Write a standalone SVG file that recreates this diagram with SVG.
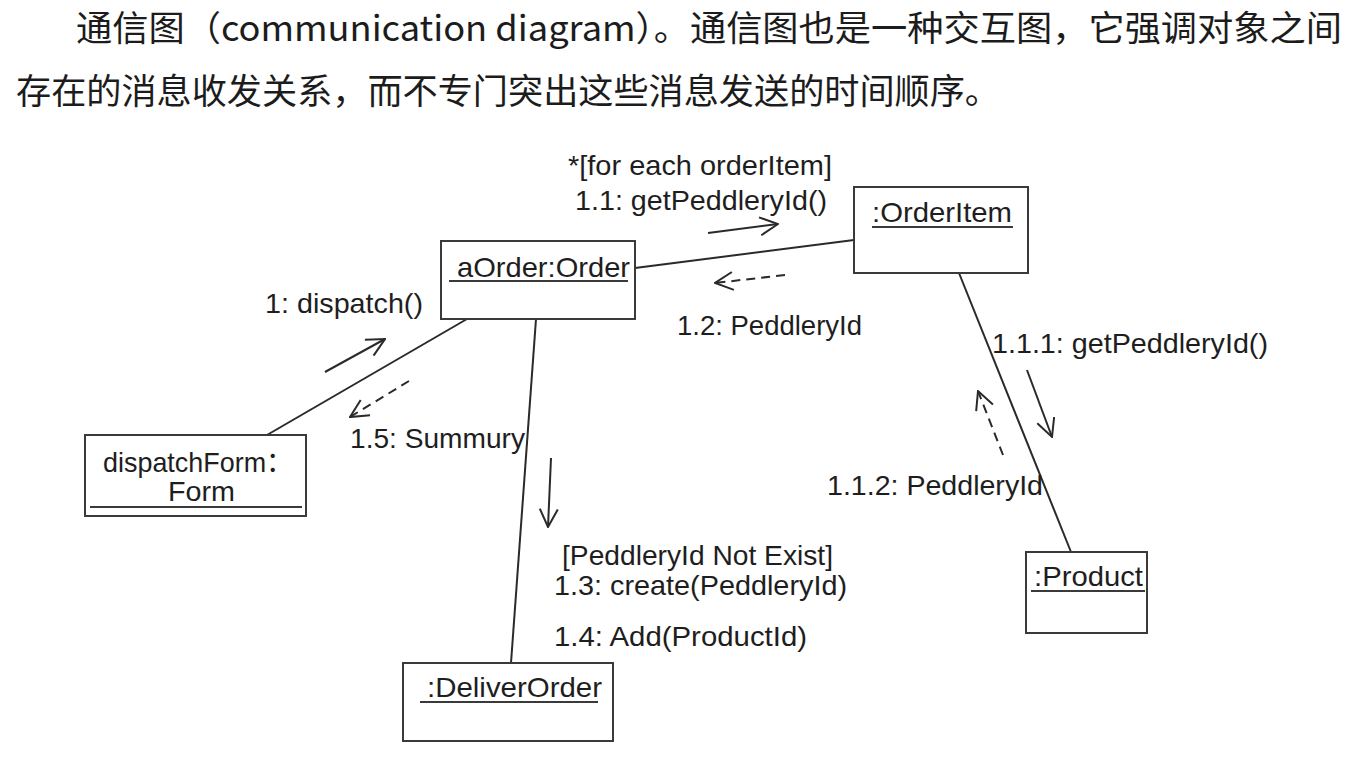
<svg xmlns="http://www.w3.org/2000/svg" width="1354" height="762" viewBox="0 0 1354 762">
  <style>
    .hdr { font-family: "Noto Sans CJK SC", "Noto Sans", sans-serif; font-size: 35px; fill: #1c1c1c; }
    .t { font-family: "Liberation Sans", "Noto Sans CJK SC", sans-serif; font-size: 28px; fill: #1e1e1e; }
    .box { fill: #ffffff; stroke: #3a3a3a; stroke-width: 2; }
    .ul { stroke: #3a3a3a; stroke-width: 2; fill: none; }
    .link { stroke: #2a2a2a; stroke-width: 2; fill: none; }
    .msg { stroke: #2a2a2a; stroke-width: 2; fill: none; marker-end: url(#open); }
    .ret { stroke: #2a2a2a; stroke-width: 2; fill: none; stroke-dasharray: 9 6; marker-end: url(#open); }
  </style>
  <defs>
    <marker id="open" viewBox="0 0 20 20" refX="19" refY="10" markerWidth="20" markerHeight="20" markerUnits="userSpaceOnUse" orient="auto">
      <path d="M1,1 L19,10 L1,19" fill="none" stroke="#2a2a2a" stroke-width="2"/>
    </marker>
  </defs>
  <rect width="1354" height="762" fill="#ffffff"/>

  <g id="header">
    <text class="hdr" x="76" y="41" textLength="1266" lengthAdjust="spacingAndGlyphs">通信图（communication diagram）。通信图也是一种交互图，它强调对象之间</text>
    <text class="hdr" x="16" y="104" textLength="984" lengthAdjust="spacingAndGlyphs">存在的消息收发关系，而不专门突出这些消息发送的时间顺序。</text>
  </g>

  <g id="connectors">
    <line class="link" x1="635" y1="268" x2="854" y2="240"/>
    <line class="link" x1="467" y1="319" x2="267" y2="435"/>
    <line class="link" x1="536" y1="319" x2="511" y2="663"/>
    <line class="link" x1="959" y1="273" x2="1071" y2="552"/>
  </g>

  <g id="messages">
    <line class="msg" x1="708" y1="233" x2="778" y2="224"/>
    <line class="ret" x1="785" y1="275" x2="715" y2="283"/>
    <line class="msg" x1="325" y1="372" x2="385" y2="339"/>
    <line class="ret" x1="409" y1="381" x2="350" y2="417"/>
    <line class="msg" x1="551" y1="458" x2="548" y2="527"/>
    <line class="msg" x1="1027" y1="370" x2="1052" y2="437"/>
    <line class="ret" x1="1003" y1="455" x2="978" y2="391"/>
    <text class="t" x="568" y="175" textLength="264" lengthAdjust="spacingAndGlyphs">*[for each orderItem]</text>
    <text class="t" x="575" y="210" textLength="252" lengthAdjust="spacingAndGlyphs">1.1: getPeddleryId()</text>
    <text class="t" x="677" y="335" textLength="185" lengthAdjust="spacingAndGlyphs">1.2: PeddleryId</text>
    <text class="t" x="265" y="313" textLength="158" lengthAdjust="spacingAndGlyphs">1: dispatch()</text>
    <text class="t" x="350" y="448" textLength="175" lengthAdjust="spacingAndGlyphs">1.5: Summury</text>
    <text class="t" x="992" y="353" textLength="276" lengthAdjust="spacingAndGlyphs">1.1.1: getPeddleryId()</text>
    <text class="t" x="827" y="495" textLength="216" lengthAdjust="spacingAndGlyphs">1.1.2: PeddleryId</text>
    <text class="t" x="562" y="565" textLength="271" lengthAdjust="spacingAndGlyphs">[PeddleryId Not Exist]</text>
    <text class="t" x="554" y="595" textLength="293" lengthAdjust="spacingAndGlyphs">1.3: create(PeddleryId)</text>
    <text class="t" x="554" y="646" textLength="253" lengthAdjust="spacingAndGlyphs">1.4: Add(ProductId)</text>
  </g>

  <g id="aOrder">
    <rect class="box" x="441" y="241" width="194" height="78"/>
    <text class="t" x="457" y="277" textLength="173" lengthAdjust="spacingAndGlyphs">aOrder:Order</text>
    <line class="ul" x1="449" y1="281" x2="628" y2="281"/>
  </g>

  <g id="orderItem">
    <rect class="box" x="854" y="187" width="174" height="86"/>
    <text class="t" x="872" y="222" textLength="140" lengthAdjust="spacingAndGlyphs">:OrderItem</text>
    <line class="ul" x1="872" y1="227" x2="1013" y2="227"/>
  </g>

  <g id="dispatchForm">
    <rect class="box" x="85" y="435" width="221" height="81"/>
    <text class="t" x="103" y="472" textLength="190" lengthAdjust="spacingAndGlyphs">dispatchForm：</text>
    <text class="t" x="168" y="501" textLength="67" lengthAdjust="spacingAndGlyphs">Form</text>
    <line class="ul" x1="90" y1="507" x2="302" y2="507"/>
  </g>

  <g id="product">
    <rect class="box" x="1026" y="552" width="121" height="81"/>
    <text class="t" x="1034" y="586" textLength="109" lengthAdjust="spacingAndGlyphs">:Product</text>
    <line class="ul" x1="1031" y1="591" x2="1145" y2="591"/>
  </g>

  <g id="deliverOrder">
    <rect class="box" x="403" y="663" width="210" height="78"/>
    <text class="t" x="427" y="697" textLength="175" lengthAdjust="spacingAndGlyphs">:DeliverOrder</text>
    <line class="ul" x1="420" y1="702" x2="598" y2="702"/>
  </g>
</svg>
